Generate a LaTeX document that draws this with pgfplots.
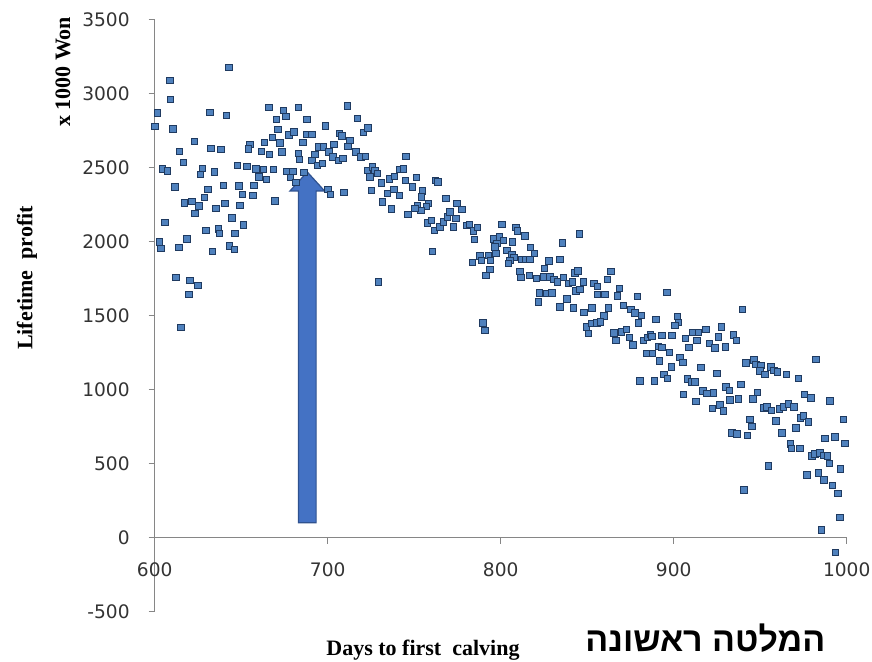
\documentclass[border=0pt]{standalone}
\usepackage{pgfplots}
\pgfplotsset{compat=1.18}
\usepackage{fontspec}
\setmainfont{Liberation Serif}
\newfontfamily\tickfont{DejaVu Sans}
\newfontfamily\hebfont[Script=Hebrew]{Liberation Sans}
\TeXXeTstate=1
\definecolor{ptfill}{HTML}{4F81BD}
\definecolor{ptdraw}{HTML}{1F3A60}
\definecolor{arrfill}{HTML}{4472C4}
\definecolor{arrdraw}{HTML}{2F528F}
\definecolor{axgray}{HTML}{868686}
\pgfplotstableread{
x y
642.8 3176
608.8 3090
609.2 2960
601.5 2870
600.0 2780
610.6 2762
631.8 2874
641.4 2854
622.9 2676
614.2 2611
632.5 2631
638.3 2624
616.6 2535
604.4 2492
607.5 2478
627.5 2496
626.4 2456
634.5 2471
611.6 2370
630.8 2354
639.7 2381
648.7 2377
650.6 2321
617.1 2262
621.4 2271
625.6 2242
628.7 2298
635.3 2226
640.6 2260
649.3 2246
623.3 2190
644.7 2161
605.8 2130
651.2 2113
629.5 2075
636.8 2086
637.3 2055
646.4 2055
602.7 1999
603.6 1954
613.9 1963
618.7 2019
633.5 1934
643.1 1972
646.0 1947
612.3 1758
620.4 1738
624.9 1704
619.7 1643
615.2 1421
647.7 2516
653.2 2510
655.1 2658
654.1 2627
663.4 2670
661.6 2611
666.2 2591
668.0 2703
672.4 2667
673.6 2606
671.3 2760
665.9 2906
670.5 2825
674.3 2888
675.9 2847
677.6 2721
680.5 2741
658.6 2492
662.8 2488
660.3 2438
664.7 2420
668.6 2488
657.4 2379
656.8 2312
669.5 2276
676.5 2474
679.8 2474
678.4 2435
681.7 2400
683.2 2906
683.0 2595
711.3 2917
688.0 2825
698.6 2782
717.3 2834
687.9 2726
690.8 2726
685.7 2670
706.7 2731
708.1 2714
720.6 2737
723.3 2768
703.5 2658
712.9 2685
711.6 2645
694.8 2640
697.5 2640
683.6 2557
692.7 2591
700.8 2606
702.9 2573
706.1 2550
708.7 2562
716.2 2606
719.2 2573
721.7 2577
690.8 2550
694.0 2516
696.9 2528
686.3 2469
700.0 2354
701.5 2321
709.4 2334
725.4 2346
722.9 2483
725.8 2505
727.3 2483
724.5 2438
728.7 2460
745.3 2577
731.2 2397
735.6 2424
738.5 2442
741.8 2487
743.7 2491
744.9 2415
738.3 2352
741.4 2314
734.5 2325
731.6 2269
736.8 2221
748.9 2370
751.4 2433
754.7 2343
754.1 2302
762.2 2415
763.6 2404
758.2 2258
757.2 2240
752.0 2242
753.8 2213
746.4 2186
750.5 2224
768.4 2292
757.6 2127
760.1 2145
761.8 2078
764.9 2100
766.8 2134
769.1 2167
760.5 1936
729.2 1729
774.6 2258
777.5 2217
774.2 2157
772.6 2100
770.7 2201
780.3 2111
781.8 2118
784.2 2073
786.5 2096
784.7 2017
800.6 2118
808.8 2096
809.8 2073
814.0 2039
795.7 2019
799.2 2032
801.5 2010
797.7 1988
796.7 1965
806.9 1999
803.5 1943
806.4 1914
807.7 1893
805.4 1875
804.4 1853
788.0 1904
789.0 1875
783.6 1859
792.8 1909
794.2 1875
797.3 1920
793.8 1812
791.5 1774
812.1 1880
814.6 1880
816.9 1880
817.3 1961
819.4 1920
811.2 1801
811.6 1758
816.5 1774
820.8 1752
824.6 1762
828.5 1762
830.8 1745
832.7 1729
836.2 1758
839.1 1718
841.6 1729
825.2 1819
827.9 1870
834.3 1880
835.8 1992
845.4 2053
842.8 1789
844.7 1803
847.7 1729
822.3 1654
826.6 1650
829.5 1654
821.7 1594
838.2 1614
834.3 1560
842.0 1553
843.5 1668
845.8 1677
853.9 1718
855.8 1699
855.8 1645
848.2 1522
852.6 1553
789.6 1452
790.9 1402
849.7 1425
852.6 1448
855.5 1452
850.6 1380
863.8 1801
861.6 1745
868.6 1684
860.3 1645
867.4 1634
879.0 1632
896.0 1657
862.4 1553
859.7 1499
870.9 1571
875.3 1542
877.6 1519
881.5 1504
857.8 1458
865.5 1384
866.7 1335
869.9 1391
872.8 1409
874.3 1353
876.3 1303
879.5 1452
889.8 1475
902.1 1497
902.7 1454
900.8 1436
882.4 1335
884.7 1353
886.7 1375
887.3 1362
893.1 1367
899.0 1367
891.1 1294
893.1 1286
897.5 1252
884.4 1245
887.6 1245
891.7 1195
880.5 1060
888.8 1060
894.4 1105
896.5 1076
898.8 1155
903.6 1218
905.2 1186
906.9 1346
911.0 1387
914.2 1387
918.7 1407
913.3 1335
908.7 1286
915.8 1151
907.9 1072
910.4 1053
912.3 1053
905.5 970
912.9 921
916.8 991
919.1 975
922.9 979
927.7 1425
925.8 1357
920.6 1312
923.9 1283
930.0 1290
934.4 1369
936.4 1335
939.7 1544
941.8 1182
924.9 1110
930.2 1020
932.1 997
938.9 1036
932.5 930
937.3 937
926.8 896
928.7 858
922.3 874
933.7 709
936.6 700
946.4 1200
947.6 1171
950.3 1166
949.9 1126
952.8 1105
956.1 1155
958.0 1132
959.9 1121
965.3 1105
972.0 1076
982.1 1205
948.3 982
945.7 937
952.2 878
953.8 885
956.6 862
959.1 790
961.0 869
963.4 885
966.2 903
969.5 885
975.5 968
979.2 945
990.3 923
973.4 810
974.9 822
977.8 783
970.7 743
962.6 709
944.1 799
945.1 754
942.5 693
998.0 799
967.6 633
968.2 604
973.0 604
987.5 671
993.2 682
999.0 637
979.8 552
981.7 565
984.6 574
986.9 558
989.0 552
990.0 502
996.5 466
976.9 423
983.8 439
986.9 390
991.9 354
994.8 300
954.7 484
940.6 322
996.1 138
985.5 52
993.6 -101
}\profitdata
\begin{document}
\begin{tikzpicture}
\useasboundingbox (0,0) rectangle (436pt,331pt);
\begin{axis}[
  at={(77.35pt,25.15pt)}, anchor=south west,
  scale only axis, width=346pt, height=296pt,
  xmin=600, xmax=1000, ymin=-500, ymax=3500,
  axis x line=middle, axis y line=left,
  hide obscured x ticks=false, hide obscured y ticks=false,
  x axis line style={-, draw=axgray, line width=0.65pt},
  y axis line style={-, draw=axgray, line width=0.65pt},
  xtick={600,700,800,900,1000},
  ytick={-500,0,500,1000,1500,2000,2500,3000,3500},
  tick align=outside, major tick length=3pt,
  tick style={draw=axgray, line width=0.6pt},
  /pgf/number format/assume math mode=true,
  /pgf/number format/1000 sep={},
  ticklabel style={font=\tickfont\fontsize{9.3}{11}\selectfont, text=black!80},
  xticklabel style={yshift=-6pt},
  yticklabel style={xshift=-6pt},
  clip=false,
]
\addplot[only marks, mark=square*, mark size=1.6pt,
  mark options={fill=ptfill, draw=ptdraw, line width=0.4pt}] table[x=x,y=y] {\profitdata};
\draw[fill=arrfill, draw=arrdraw, line width=0.6pt]
  (axis cs:683.1,101) -- (axis cs:683.1,2343) -- (axis cs:678.2,2343)
  -- (axis cs:688.2,2471) -- (axis cs:698.2,2343) -- (axis cs:693.3,2343)
  -- (axis cs:693.3,101) -- cycle;
\end{axis}
\node[rotate=90, font=\bfseries\fontsize{11}{13}\selectfont] at (31.5pt,295pt) {x 1000 Won};
\node[rotate=90, font=\bfseries\fontsize{11}{13}\selectfont] at (13.5pt,192pt) {Lifetime\ \ profit};
\node[font=\bfseries\fontsize{11}{13}\selectfont] at (211.5pt,6pt) {Days to first\ \ calving};
\node[anchor=base west, inner sep=0pt, font=\hebfont\bfseries\fontsize{17}{19}\selectfont] at (292.5pt,5pt) {\beginR המלטה ראשונה\endR};
\end{tikzpicture}
\end{document}
